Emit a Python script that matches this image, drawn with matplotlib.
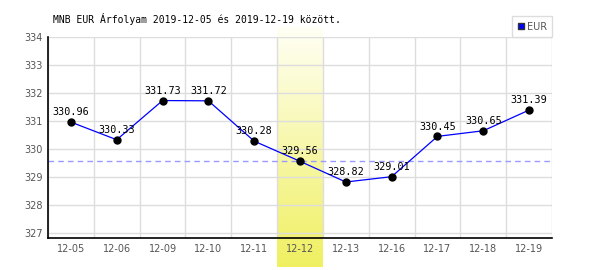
import numpy as np
import matplotlib
matplotlib.use("Agg")
import matplotlib.pyplot as plt
from matplotlib.lines import Line2D
from matplotlib.transforms import blended_transform_factory

# adatok
dates = ['12-05', '12-06', '12-09', '12-10', '12-11', '12-12',
         '12-13', '12-16', '12-17', '12-18', '12-19']
eur = [330.96, 330.33, 331.73, 331.72, 330.28, 329.56,
       328.82, 329.01, 330.45, 330.65, 331.39]
highlight_idx = 5
ref_value = 329.56
title = 'MNB EUR Árfolyam 2019-12-05 és 2019-12-19 között.'

fig = plt.figure(figsize=(6, 2.7), dpi=100)
ax = fig.add_axes([48 / 600, 32 / 270, 504 / 600, 201 / 270])

x = np.arange(len(dates))

# kiemelt nap: sárga színátmenet, a tengelyen túl is
grad = np.linspace(0, 1, 256).reshape(-1, 1)
top_c = np.array([1.0, 1.0, 0.96])
bot_c = np.array([0.94, 0.94, 0.38])
img = top_c + (bot_c - top_c) * grad[:, :, None] * np.ones((1, 1, 3))
trans = blended_transform_factory(ax.transData, fig.transFigure)
ax.imshow(img, extent=(highlight_idx - 0.5, highlight_idx + 0.5, 3 / 270, 243 / 270),
          transform=trans, aspect='auto', clip_on=False, zorder=0, interpolation='bilinear')

# rács
for v in range(327, 335):
    ax.axhline(v, color='#dddddd', lw=1, zorder=1)
for k in range(len(dates) + 1):
    ax.axvline(k - 0.5, color='#dddddd', lw=1, zorder=1)

ax.axhline(ref_value, color='#9999ff', lw=1, ls=(0, (4, 3)), zorder=2)

ax.plot(x, eur, color='#0000ff', lw=0.9, zorder=3)
ax.plot(x, eur, 'o', color='black', ms=5, zorder=4)

for xi, v in zip(x, eur):
    ax.annotate(f'{v:.2f}', (xi, v), xytext=(0, 3.5), textcoords='offset points',
                ha='center', va='bottom', fontsize=7.3, family='DejaVu Sans Mono',
                color='black', zorder=5)

ax.set_xlim(-0.5, len(dates) - 0.5)
ax.set_ylim(326.82, 334)
ax.set_xticks(x)
ax.set_xticklabels(dates)
ax.set_yticks(range(327, 335))
ax.tick_params(length=0, labelsize=7, labelcolor='#555555', pad=4)
ax.tick_params(axis='y', pad=4)

for s in ['top', 'right']:
    ax.spines[s].set_visible(False)
ax.spines['left'].set_color('black')
ax.spines['bottom'].set_color('black')
ax.spines['left'].set_linewidth(1.2)
ax.spines['bottom'].set_linewidth(1.2)
ax.patch.set_alpha(0)

fig.text(53 / 600, 1 - 19 / 270, title, fontsize=7.0, family='DejaVu Sans Mono',
         va='center', ha='left', color='black')

handle = Line2D([], [], marker='s', ls='none', markerfacecolor='#0000ff',
                markeredgecolor='#333333', markersize=5)
leg = ax.legend([handle], ['EUR'], loc='lower right',
                bbox_to_anchor=(552 / 600, 1 - 37 / 270), bbox_transform=fig.transFigure,
                borderaxespad=0, fancybox=False, framealpha=1, edgecolor='#dddddd',
                fontsize=7, handlelength=0.6, handletextpad=0.3, borderpad=0.55)
for t in leg.get_texts():
    t.set_color('#555555')

fig.savefig('out.png', dpi=100)
